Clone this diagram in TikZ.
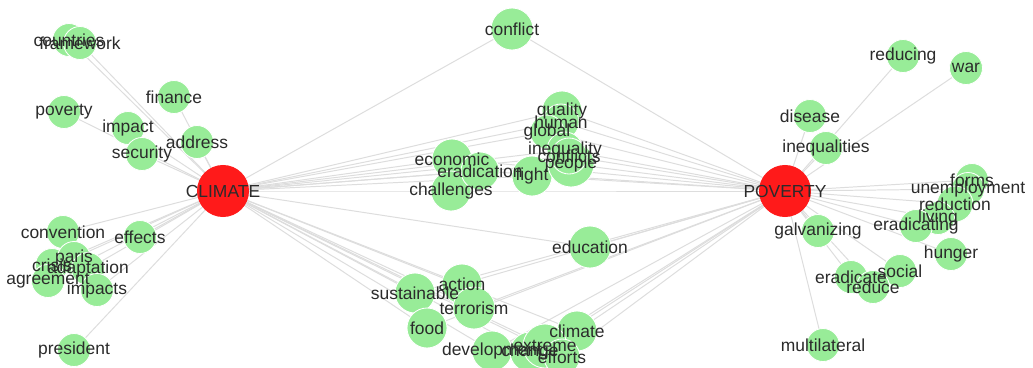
\documentclass[tikz,border=0pt]{standalone}
\usepackage{fontspec}
\setmainfont{Liberation Sans}
\usepackage{xcolor}
\definecolor{leaf-green}{HTML}{98EC98}
\definecolor{hub-red}{HTML}{FF1A1A}
\definecolor{ink}{HTML}{2B2B2B}
\definecolor{edge-grey}{HTML}{DDDDDD}
\usetikzlibrary{backgrounds}
\tikzset{leaf/.style = {circle, fill=leaf-green, draw=white, line width=.6pt, inner sep=0pt, minimum size=#1*0.025cm}}
\tikzset{leaf/.default = 33}
\tikzset{hub/.style = {circle, fill=hub-red, inner sep=0pt, minimum size=1.3cm}}
\tikzset{word/.style = {text=ink, inner sep=0pt}}
\tikzset{link/.style = {edge-grey, line width=.7pt}}

\begin{document}
\begin{tikzpicture}[x=.025cm, y=-.025cm,
  font=\fontsize{12.4}{14}\selectfont
]
\useasboundingbox (0,0) rectangle (1033,368);

\node[hub] (CLIMATE) at (223,191) {};
\node[hub] (POVERTY) at (785,191) {};

% words only next to CLIMATE
\node[leaf] (countries) at (69,40) {};
\node[leaf] (framework) at (80,43) {};
\node[leaf] (finance) at (174,97) {};
\node[leaf] (poverty) at (64,112) {};
\node[leaf] (impact) at (128,128) {};
\node[leaf] (security) at (142,154) {};
\node[leaf] (address) at (197,142) {};
\node[leaf] (convention) at (63,232) {};
\node[leaf] (effects) at (140,237) {};
\node[leaf] (crisis) at (52,265) {};
\node[leaf] (paris) at (74,258) {};
\node[leaf] (adaptation) at (88,269) {};
\node[leaf] (agreement) at (48,281) {};
\node[leaf] (impacts) at (97,290) {};
\node[leaf] (president) at (74,350) {};

% shared words
\node[leaf=42] (conflict) at (512,29) {};
\node[leaf=40] (economic) at (452,159) {};
\node[leaf=40] (challenges) at (451,191) {};
\node[leaf=38] (eradication) at (480,171) {};
\node[leaf=40] (fight) at (532,176) {};
\node[leaf=40] (quality) at (562,111) {};
\node[leaf=36] (human) at (561,122) {};
\node[leaf=34] (global) at (547,132) {};
\node[leaf=46] (people) at (571,164) {};
\node[leaf=36] (inequality) at (565,150) {};
\node[leaf=36] (conflicts) at (569,156) {};
\node[leaf=42] (education) at (590,247) {};
\node[leaf=40] (action) at (462,284) {};
\node[leaf=40] (sustainable) at (415,293) {};
\node[leaf=42] (terrorism) at (474,308) {};
\node[leaf=40] (food) at (427,328) {};
\node[leaf=40] (climate) at (577,331) {};
\node[leaf=40] (development) at (492,351) {};
\node[leaf=40] (change) at (530,352) {};
\node[leaf=44] (extreme) at (545,346) {};
\node[leaf=36] (efforts) at (562,357) {};

% words only next to POVERTY
\node[leaf] (reducing) at (903,56) {};
\node[leaf] (war) at (966,68) {};
\node[leaf] (disease) at (810,116) {};
\node[leaf] (inequalities) at (826,148) {};
\node[leaf] (forms) at (972,180) {};
\node[leaf] (unemployment) at (968,189) {};
\node[leaf=36] (reduction) at (955,204) {};
\node[leaf] (living) at (938,218) {};
\node[leaf] (eradicating) at (916,226) {};
\node[leaf] (hunger) at (951,254) {};
\node[leaf] (galvanizing) at (818,231) {};
\node[leaf] (social) at (900,271) {};
\node[leaf] (eradicate) at (851,277) {};
\node[leaf] (reduce) at (873,287) {};
\node[leaf] (multilateral) at (823,345) {};

% labels go over every circle
\foreach \w in {CLIMATE, POVERTY, countries, framework, finance, poverty, impact, security, address, convention, effects, crisis, paris, adaptation, agreement, impacts, president, conflict, economic, challenges, eradication, fight, quality, human, global, people, inequality, conflicts, education, action, sustainable, terrorism, food, climate, development, change, extreme, efforts, reducing, war, disease, inequalities, forms, unemployment, reduction, living, eradicating, hunger, galvanizing, social, eradicate, reduce, multilateral}
  \node[word] (\w-text) at (\w) {\w};

\begin{scope}[on background layer]
\fill[white] (0,0) rectangle (1033,368);
\foreach \w in {countries, framework, finance, poverty, impact, security, address, convention, effects, crisis, paris, adaptation, agreement, impacts, president}
  \draw[link] (CLIMATE.center) -- (\w.center);
\foreach \w in {reducing, war, disease, inequalities, forms, unemployment, reduction, living, eradicating, hunger, galvanizing, social, eradicate, reduce, multilateral}
  \draw[link] (POVERTY.center) -- (\w.center);
\foreach \w in {conflict, economic, challenges, eradication, fight, quality, human, global, people, inequality, conflicts, education, action, sustainable, terrorism, food, climate, development, change, extreme, efforts}
  \draw[link] (CLIMATE.center) -- (\w.center) -- (POVERTY.center);
\end{scope}

\end{tikzpicture}
\end{document}
